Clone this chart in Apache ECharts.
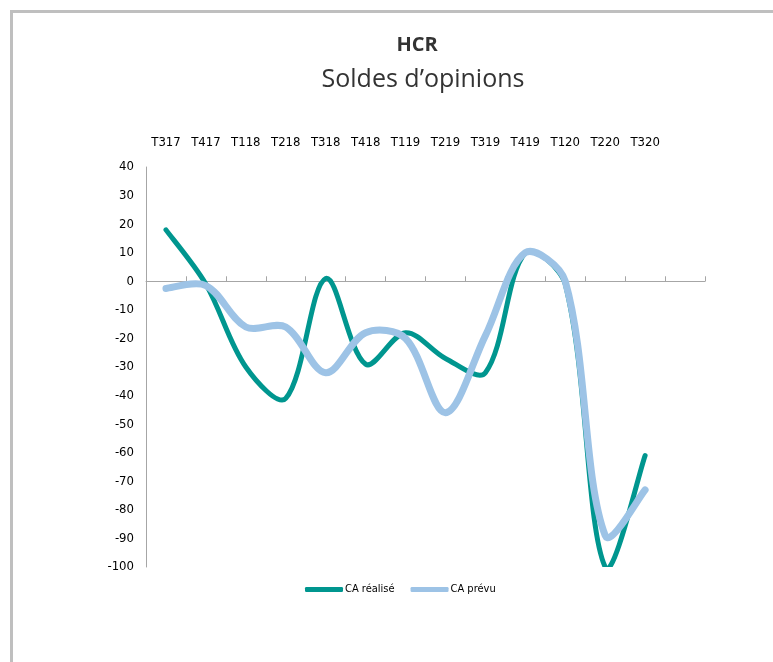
<!DOCTYPE html>
<html>
<head>
<meta charset="utf-8">
<script src="https://cdn.jsdelivr.net/npm/echarts@6/dist/echarts.min.js"></script>
<style>
html,body{margin:0;padding:0;background:#fff;}
#chart{width:773px;height:662px;}
</style>
</head>
<body>
<div id="chart"></div>
<script>
const categories = ['T317','T417','T118','T218','T318','T418','T119','T219','T319','T419','T120','T220','T320',''];
const caRealise = [18, -1, -30, -41, 1, -29, -18, -27, -32, 10, -1, -100, -61];
const caPrevu   = [-2.5, -1.5, -16, -16, -32, -18, -20, -46, -19, 10, 0, -89, -73];
const yTicks = {min: -100, max: 40, interval: 10};

const FONT = '"Liberation Sans Narrow","DejaVu Sans Condensed","Liberation Sans",sans-serif';

// Smoothed line (spreadsheet-style bezier smoothing) drawn through the axes' scales
function smoothRenderer(values, color, width) {
  return function (params, api) {
    if (params.dataIndex !== 0) return null;
    const pts = values.map((v, i) => api.coord([i, v]));
    const n = pts.length;
    const dist = (a, b) => Math.hypot(b[0] - a[0], b[1] - a[1]);
    const cpIn = [], cpOut = [];
    for (let i = 0; i < n; i++) {
      const p = pts[i];
      if (i === 0 || i === n - 1) {
        const q = i === 0 ? pts[1] : pts[n - 2];
        const c = [p[0] + (q[0] - p[0]) / 6, p[1] + (q[1] - p[1]) / 6];
        cpIn[i] = c; cpOut[i] = c;
        continue;
      }
      const a = pts[i - 1], b = pts[i + 1];
      const vx = b[0] - a[0], vy = b[1] - a[1];
      const d0 = dist(a, p), d1 = dist(p, b);
      const s = 1 / 3;
      const r0 = d0 / (d0 + d1), r1 = d1 / (d0 + d1);
      cpIn[i] = [p[0] - vx * r0 * s, p[1] - vy * r0 * s];
      cpOut[i] = [p[0] + vx * r1 * s, p[1] + vy * r1 * s];
    }
    const path = ['M' + pts[0][0] + ' ' + pts[0][1]];
    for (let i = 0; i < n - 1; i++) {
      const c1 = cpOut[i], c2 = cpIn[i + 1], p2 = pts[i + 1];
      path.push('C' + c1[0] + ' ' + c1[1] + ' ' + c2[0] + ' ' + c2[1] + ' ' + p2[0] + ' ' + p2[1]);
    }
    return {
      type: 'path',
      shape: {pathData: path.join(' ')},
      style: {fill: 'none', stroke: color, lineWidth: width, lineCap: 'round', lineJoin: 'round'}
    };
  };
}

const TEAL = '#00968F';
const BLUE = '#9DC3E6';

const chart = echarts.init(document.getElementById('chart'), null, {renderer: 'canvas'});
chart.setOption({
  backgroundColor: '#ffffff',
  animation: false,
  graphic: [
    {type: 'rect', shape: {x: 10, y: 10, width: 763, height: 3}, style: {fill: '#BFBFBF'}, silent: true},
    {type: 'rect', shape: {x: 10, y: 10, width: 3, height: 652}, style: {fill: '#BFBFBF'}, silent: true},
    {type: 'text', x: 417, y: 45, style: {text: 'HCR', font: 'bold 20px "Open Sans","Liberation Sans",sans-serif', fill: '#333333', align: 'center', verticalAlign: 'middle'}},
    {type: 'text', x: 423, y: 80, style: {text: 'Soldes d\u2019opinions', font: '25px "Open Sans","Liberation Sans",sans-serif', fill: '#333333', align: 'center', verticalAlign: 'middle'}}
  ],
  legend: {
    left: 300, top: 579,
    itemWidth: 38, itemHeight: 5, itemGap: 16,
    icon: 'roundRect',
    textStyle: {fontFamily: FONT, fontSize: 11, color: '#000', padding: [0, 0, 0, -3]},
    data: [
      {name: 'CA réalisé', itemStyle: {color: TEAL}},
      {name: 'CA prévu', itemStyle: {color: BLUE}}
    ]
  },
  grid: {left: 146, right: 68, top: 167, bottom: 95, containLabel: false},
  xAxis: [
    {
      type: 'category', data: categories, boundaryGap: true,
      axisLine: {onZero: true, lineStyle: {color: '#A6A6A6', width: 1}},
      axisTick: {show: true, inside: true, length: 5, alignWithLabel: false, lineStyle: {color: '#A6A6A6'}},
      axisLabel: {show: false},
      splitLine: {show: false}
    },
    {
      type: 'category', data: categories, boundaryGap: true, position: 'top',
      axisLine: {show: false}, axisTick: {show: false},
      axisLabel: {show: true, interval: 0, margin: 18, fontFamily: FONT, fontSize: 13, color: '#000'},
      splitLine: {show: false}
    }
  ],
  yAxis: {
    type: 'value', min: yTicks.min, max: yTicks.max, interval: yTicks.interval,
    axisLine: {show: true, lineStyle: {color: '#A6A6A6'}},
    axisTick: {show: false},
    axisLabel: {fontFamily: FONT, fontSize: 13, color: '#000', margin: 12},
    splitLine: {show: false}
  },
  series: [
    {
      name: 'CA réalisé', type: 'custom', clip: true,
      data: caRealise.map((v, i) => [i, v]),
      encode: {x: 0, y: 1},
      itemStyle: {color: TEAL},
      renderItem: smoothRenderer(caRealise, TEAL, 5)
    },
    {
      name: 'CA prévu', type: 'custom', clip: true,
      data: caPrevu.map((v, i) => [i, v]),
      encode: {x: 0, y: 1},
      itemStyle: {color: BLUE},
      renderItem: smoothRenderer(caPrevu, BLUE, 7)
    }
  ]
});
</script>
</body>
</html>
